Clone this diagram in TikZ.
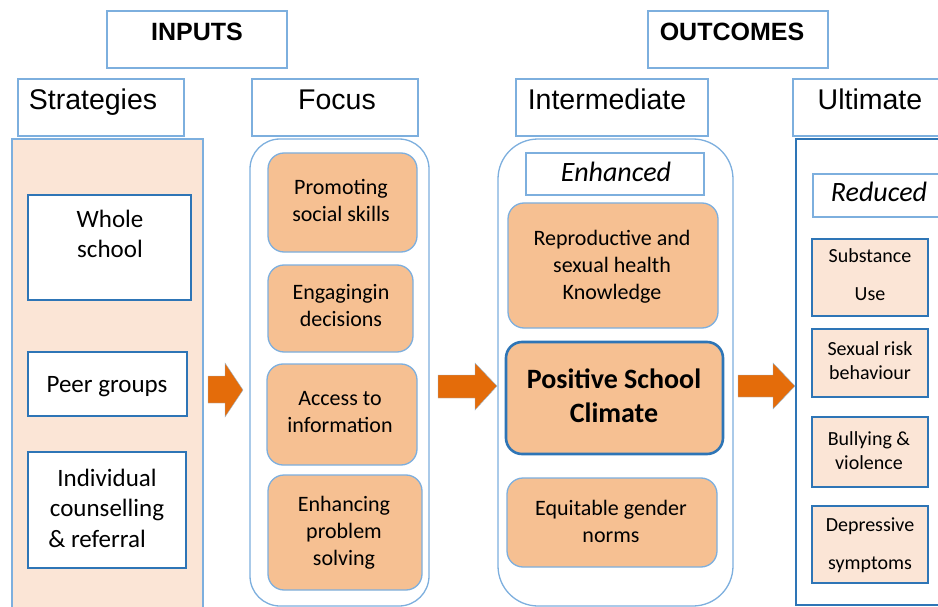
\documentclass[tikz,border=0pt]{standalone}
\usepackage{fontspec}
\setmainfont{Carlito}
\newfontfamily\arialf{Liberation Sans}
\definecolor{lb}{RGB}{125,175,222}
\definecolor{db}{RGB}{46,117,182}
\definecolor{peach}{RGB}{251,229,214}
\definecolor{orbox}{RGB}{246,192,146}
\definecolor{arr}{RGB}{228,108,10}
\begin{document}
\begin{tikzpicture}[x=1pt,y=-1pt,
  box/.style={anchor=north west, inner sep=0pt, outer sep=0pt},
  hdr/.style={box, draw=lb, line width=1.3pt, fill=white},
  panel/.style={box, draw=lb, line width=1.3pt},
  wbox/.style={box, draw=db, line width=1.8pt, fill=white},
  obox/.style={box, draw=lb, line width=1.3pt, fill=orbox, rounded corners=16pt},
  ubox/.style={box, draw=db, line width=1.8pt, fill=peach},
  htxt/.style={inner sep=0pt, anchor=base, font=\arialf\fontsize{28.5}{34}\selectfont},
  btxt/.style={inner sep=0pt, anchor=base, font=\arialf\bfseries\fontsize{25}{30}\selectfont},
  stxt/.style={inner sep=0pt, align=center, font=\fontsize{25}{30.5}\selectfont},
  ftxt/.style={inner sep=0pt, align=center, font=\fontsize{22}{27}\selectfont},
  utxt/.style={inner sep=0pt, align=center, font=\fontsize{20}{24}\selectfont},
  itxt/.style={inner sep=0pt, anchor=base, font=\itshape\fontsize{28}{34}\selectfont},
  blockarrow/.style={fill=arr, draw=db!50, line width=0.4pt}
]
\useasboundingbox (0,0) rectangle (938,607);
\clip (0,0) rectangle (938,607);
% headers
\node[hdr, minimum width=180pt, minimum height=57pt] (inputs) at (107,11) {};
\node[btxt] (inputs-t) at (197,40.5) {INPUTS};
\node[hdr, minimum width=180pt, minimum height=57pt] (outcomes) at (648,11) {};
\node[btxt] (outcomes-t) at (732,40.5) {OUTCOMES};
\node[hdr, minimum width=166pt, minimum height=57pt] (strat) at (18,79) {};
\node[htxt] (strat-t) at (93,110) {Strategies};
\node[hdr, minimum width=166pt, minimum height=57pt] (focus) at (252,79) {};
\node[htxt] (focus-t) at (337,110) {Focus};
\node[hdr, minimum width=192pt, minimum height=57pt] (inter) at (516,79) {};
\node[htxt] (inter-t) at (607,110) {Intermediate};
\node[hdr, minimum width=160pt, minimum height=57pt] (ult) at (793,79) {};
\node[htxt] (ult-t) at (870,110) {Ultimate};
% panels
\node[panel, fill=peach, minimum width=191pt, minimum height=481pt] (stratpanel) at (12,139) {};
\node[panel, fill=white, rounded corners=30pt, minimum width=179pt, minimum height=467pt] (focuspanel) at (250,139) {};
\node[panel, fill=white, rounded corners=40pt, minimum width=235pt, minimum height=467pt] (interpanel) at (498,139) {};
\node[box, draw=db, line width=2.6pt, fill=white, minimum width=160pt, minimum height=466pt] (ultpanel) at (796,139) {};
% strategies
\node[wbox, minimum width=163pt, minimum height=105pt] (whole) at (28,195) {};
\node[stxt] (whole-t) at (110,234) {Whole\\school};
\node[wbox, minimum width=159pt, minimum height=64pt] (peer) at (28,352) {};
\node[stxt, anchor=base] (peer-t) at (107,392) {Peer groups};
\node[wbox, minimum width=158pt, minimum height=116pt] (indiv) at (28,452) {};
\node[stxt] (indiv-t) at (107,508) {Individual\\counselling\\\& referral\hspace*{20pt}};
% focus
\node[obox, minimum width=149pt, minimum height=99pt] (promo) at (268,153) {};
\node[ftxt] (promo-t) at (341,200) {Promoting\\social skills};
\node[obox, minimum width=145pt, minimum height=87pt] (engag) at (268,265) {};
\node[ftxt] (engag-t) at (341,306) {Engagingin\\decisions};
\node[obox, minimum width=150pt, minimum height=101pt] (access) at (267,364) {};
\node[ftxt] (access-t) at (340,412) {Access to\\information};
\node[obox, minimum width=154pt, minimum height=115pt] (enhanc) at (268,475) {};
\node[ftxt] (enhanc-t) at (344,533) {Enhancing\\problem\\solving};
% intermediate
\node[box, draw=lb, line width=1.3pt, fill=white, minimum width=178pt, minimum height=42pt] (enh) at (526,153) {};
\node[itxt] (enh-t) at (616,182) {Enhanced};
\node[obox, minimum width=210pt, minimum height=125pt] (repro) at (508,203) {};
\node[ftxt] (repro-t) at (612,267) {Reproductive and\\sexual health\\Knowledge};
\node[obox, draw=db, line width=2.6pt, minimum width=217pt, minimum height=112pt] (posit) at (506,342) {};
\node[inner sep=0pt, align=center, font=\bfseries\fontsize{28}{34}\selectfont] (posit-t) at (614,396) {Positive School\\Climate};
\node[obox, minimum width=210pt, minimum height=89pt] (equit) at (507,478) {};
\node[ftxt] (equit-t) at (611,521) {Equitable gender\\norms};
% ultimate
\node[box, draw=lb, line width=1.3pt, fill=white, minimum width=140pt, minimum height=43pt] (red) at (813,174) {};
\node[itxt] (red-t) at (879,202) {Reduced};
\node[ubox, minimum width=116pt, minimum height=77pt] (subst) at (812,239) {};
\node[utxt, font=\fontsize{20}{38}\selectfont] (subst-t) at (870,275) {Substance\\Use};
\node[ubox, minimum width=116pt, minimum height=68pt] (sexual) at (812,329) {};
\node[utxt] (sexual-t) at (870,361) {Sexual risk\\behaviour};
\node[ubox, minimum width=116pt, minimum height=70pt] (bully) at (812,417) {};
\node[utxt] (bully-t) at (869,451) {Bullying \&\\violence};
\node[ubox, minimum width=116pt, minimum height=77pt] (depr) at (812,506) {};
\node[utxt, font=\fontsize{20}{38}\selectfont] (depr-t) at (870,545) {Depressive\\symptoms};
% block arrows
\path[blockarrow] (208,376) -- (225,376) -- (225,363) -- (243,390) -- (225,417) -- (225,403) -- (208,403) -- cycle;
\path[blockarrow] (438,375) -- (475,375) -- (475,363) -- (497,386) -- (475,410) -- (475,398) -- (438,398) -- cycle;
\path[blockarrow] (738,375) -- (773,375) -- (773,363) -- (795,386) -- (773,409) -- (773,397) -- (738,397) -- cycle;
\end{tikzpicture}
\end{document}
